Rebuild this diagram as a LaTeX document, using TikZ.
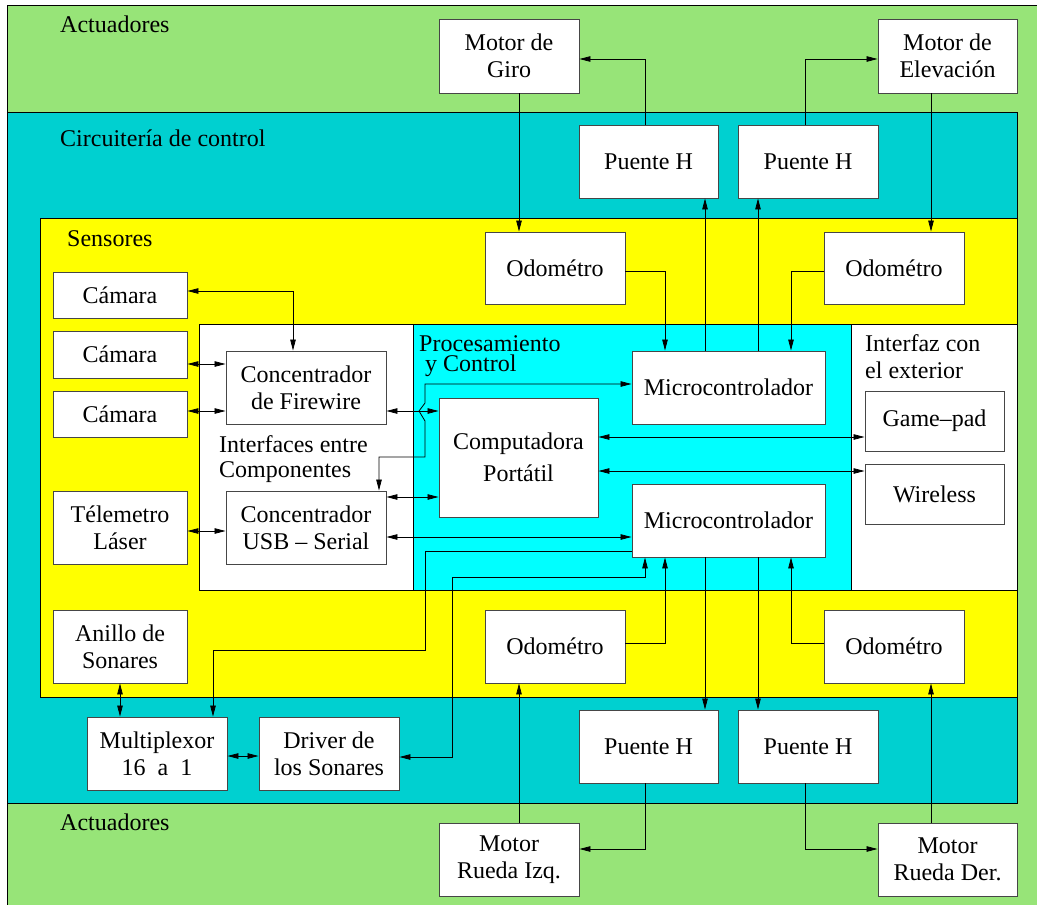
\documentclass[tikz,border=0pt]{standalone}
\usepackage{fontspec}
\setmainfont{Liberation Serif}
\usetikzlibrary{arrows.meta}
\definecolor{actgreen}{RGB}{151,228,120}
\definecolor{ctrlteal}{RGB}{0,208,208}
\definecolor{sensyellow}{RGB}{255,255,0}
\definecolor{proccyan}{RGB}{0,255,255}
\definecolor{boxline}{RGB}{70,70,70}
\begin{document}
\begin{tikzpicture}[x=1pt,y=-1pt,
  txt/.style={font=\fontsize{24}{27}\selectfont},
  region/.style={draw=black,line width=0.9pt},
  label/.style={txt,anchor=base west,inner sep=0pt},
  blk/.style={txt,draw=boxline,fill=white,line width=0.9pt,align=center,inner sep=0pt},
  arr/.style={line width=0.8pt,-{Triangle[length=11pt,width=5.5pt]}},
  dbl/.style={line width=0.8pt,{Triangle[length=11pt,width=5.5pt]}-{Triangle[length=11pt,width=5.5pt]}}]
\useasboundingbox (0,0) rectangle (1037,905);

% nested regions
\fill[white] (0,0) rectangle (1037,905);
\draw[region,fill=actgreen] (7,5) rectangle (1045,915);
\draw[region,fill=ctrlteal] (7,112) rectangle (1017,803);
\draw[region,fill=sensyellow] (40,218) rectangle (1017,697);
\draw[region,fill=white] (199,324) rectangle (413,590);
\draw[region,fill=proccyan] (413,324) rectangle (851,590);
\draw[region,fill=white] (851,324) rectangle (1017,590);

% region titles (multi-line titles are anchored on their last baseline)
\node[label] (tact1) at (60,32) {Actuadores};
\node[label] (tctrl) at (60,146) {Circuitería de control};
\node[label] (tsens) at (67,246) {Sensores};
\node[label] (tact2) at (60,830) {Actuadores};
\node[label,align=left,font=\fontsize{24}{25}\selectfont] (tint) at (219,477) {Interfaces entre\\Componentes};
\node[label,align=left,font=\fontsize{24}{20}\selectfont] (tproc) at (419,371) {Procesamiento\\\hspace*{6pt}y Control};
\node[label,align=left] (text) at (865,378) {Interfaz con\\el exterior};

% actuators
\node[blk,minimum width=140pt,minimum height=74pt] (mgiro) at (509,56) {Motor de\\Giro};
\node[blk,minimum width=139pt,minimum height=74pt] (melev) at (947.5,56) {Motor de\\Elevación};
\node[blk,minimum width=140pt,minimum height=73pt] (mizq) at (509,859.5) {Motor\\Rueda Izq.};
\node[blk,minimum width=139pt,minimum height=73pt] (mder) at (947.5,859.5) {Motor\\Rueda Der.};

% H bridges
\node[blk,minimum width=139pt,minimum height=73pt] (ph1) at (648.5,161.5) {Puente H};
\node[blk,minimum width=140pt,minimum height=73pt] (ph2) at (808,161.5) {Puente H};
\node[blk,minimum width=139pt,minimum height=73pt] (ph3) at (648.5,746.5) {Puente H};
\node[blk,minimum width=140pt,minimum height=73pt] (ph4) at (808,746.5) {Puente H};

% odometers
\node[blk,minimum width=140pt,minimum height=72pt] (odo1) at (555,268) {Odométro};
\node[blk,minimum width=140pt,minimum height=72pt] (odo2) at (894,268) {Odométro};
\node[blk,minimum width=140pt,minimum height=73pt] (odo3) at (555,646.5) {Odométro};
\node[blk,minimum width=140pt,minimum height=73pt] (odo4) at (894,646.5) {Odométro};

% sensors
\node[blk,minimum width=134pt,minimum height=46pt] (cam1) at (120,295) {Cámara};
\node[blk,minimum width=134pt,minimum height=47pt] (cam2) at (120,354.5) {Cámara};
\node[blk,minimum width=134pt,minimum height=46pt] (cam3) at (120,414) {Cámara};
\node[blk,minimum width=134pt,minimum height=73pt] (tel) at (120,527.5) {Télemetro\\Láser};
\node[blk,minimum width=134pt,minimum height=73pt] (anillo) at (120,646.5) {Anillo de\\Sonares};

% interfaces
\node[blk,minimum width=160pt,minimum height=73pt] (fw) at (306,387.5) {Concentrador\\de Firewire};
\node[blk,minimum width=160pt,minimum height=73pt] (usb) at (306,527.5) {Concentrador\\USB -- Serial};

% processing
\node[blk,minimum width=159pt,minimum height=119pt] (comp) at (518.5,457.5) {Computadora\\[5pt]Portátil};
\node[blk,minimum width=193pt,minimum height=73pt] (mc1) at (728.5,387.5) {Microcontrolador};
\node[blk,minimum width=193pt,minimum height=73pt] (mc2) at (728.5,520.5) {Microcontrolador};

% external interface
\node[blk,minimum width=139pt,minimum height=60pt] (gp) at (934.5,421) {Game--pad};
\node[blk,minimum width=139pt,minimum height=60pt] (wl) at (934.5,494) {Wireless};

% sonar chain
\node[blk,minimum width=140pt,minimum height=73pt] (mux) at (157,753.5) {Multiplexor\\16~ a~ 1};
\node[blk,minimum width=140pt,minimum height=73pt] (drv) at (329,753.5) {Driver de\\los Sonares};

% upper actuator links
\draw[arr] (mgiro.south -| 519,0) -- (odo1.north -| 519,0);
\draw[arr] (ph1.north -| 645,0) |- (mgiro.east |- 0,59);
\draw[arr] (ph2.north -| 805,0) |- (melev.west |- 0,59);
\draw[arr] (melev.south -| 931,0) -- (odo2.north -| 931,0);
\draw[arr] (mc1.north -| 705,0) -- (ph1.south -| 705,0);
\draw[arr] (mc1.north -| 758,0) -- (ph2.south -| 758,0);
\draw[arr] (odo1.east |- 0,271) -| (mc1.north -| 665,0);
\draw[arr] (odo2.west |- 0,271) -| (mc1.north -| 791,0);

% lower actuator links
\draw[arr] (mc2.south -| 705,0) -- (ph3.north -| 705,0);
\draw[arr] (mc2.south -| 758,0) -- (ph4.north -| 758,0);
\draw[arr] (odo3.east |- 0,643) -| (mc2.south -| 665,0);
\draw[arr] (odo4.west |- 0,643) -| (mc2.south -| 791,0);
\draw[arr] (ph3.south -| 645,0) |- (mizq.east |- 0,849);
\draw[arr] (ph4.south -| 805,0) |- (mder.west |- 0,849);
\draw[arr] (mizq.north -| 519,0) -- (odo3.south -| 519,0);
\draw[arr] (mder.north -| 931,0) -- (odo4.south -| 931,0);

% sensor links
\draw[dbl] (fw.north -| 293,0) |- (cam1.east |- 0,291);
\draw[dbl] (cam2.east |- 0,364) -- (fw.west |- 0,364);
\draw[dbl] (cam3.east |- 0,411) -- (fw.west |- 0,411);
\draw[dbl] (tel.east |- 0,531) -- (usb.west |- 0,531);
\draw[dbl] (fw.east |- 0,411) -- (comp.west |- 0,411);
\draw[dbl] (usb.east |- 0,497) -- (comp.west |- 0,497);
\draw[dbl] (usb.east |- 0,537) -- (mc2.west |- 0,537);
\draw[dbl] (comp.east |- 0,437) -- (gp.west |- 0,437);
\draw[dbl] (comp.east |- 0,471) -- (wl.west |- 0,471);
\draw[dbl] (mc1.west |- 0,384) -- (425,384) -- (425,403) -- (419,411) -- (425,421) |- (379,457) -- (usb.north -| 379,0);

% sonar links
\draw[arr] (mc2.west |- 0,551) -| (425,650) -| (mux.north -| 213,0);
\draw[dbl] (drv.east |- 0,757) -| (452,577) -| (mc2.south -| 645,0);
\draw[dbl] (anillo.south -| 120,0) -- (mux.north -| 120,0);
\draw[dbl] (mux.east |- 0,756) -- (drv.west |- 0,756);
\end{tikzpicture}
\end{document}
